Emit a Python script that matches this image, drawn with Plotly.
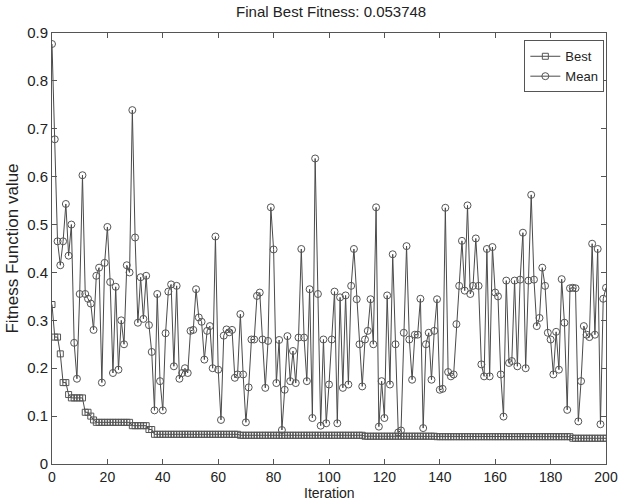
import plotly.graph_objects as go

iterations = list(range(0, 201))

mean_fitness = [
    0.877, 0.678, 0.465, 0.415, 0.465, 0.543, 0.435, 0.500, 0.253, 0.178,
    0.355, 0.603, 0.355, 0.345, 0.335, 0.280, 0.393, 0.410, 0.170, 0.420,
    0.495, 0.380, 0.190, 0.370, 0.197, 0.300, 0.250, 0.415, 0.400, 0.739,
    0.473, 0.295, 0.390, 0.303, 0.393, 0.290, 0.234, 0.112, 0.355, 0.173,
    0.112, 0.273, 0.360, 0.375, 0.204, 0.372, 0.178, 0.190, 0.200, 0.190,
    0.278, 0.280, 0.365, 0.306, 0.297, 0.218, 0.278, 0.288, 0.200, 0.475,
    0.197, 0.092, 0.268, 0.281, 0.275, 0.280, 0.180, 0.187, 0.313, 0.187,
    0.087, 0.160, 0.260, 0.260, 0.351, 0.358, 0.260, 0.159, 0.257, 0.536,
    0.448, 0.169, 0.259, 0.071, 0.155, 0.267, 0.173, 0.236, 0.169, 0.264,
    0.449, 0.264, 0.173, 0.365, 0.096, 0.638, 0.355, 0.080, 0.260, 0.085,
    0.166, 0.260, 0.360, 0.085, 0.348, 0.159, 0.352, 0.166, 0.372, 0.449,
    0.344, 0.250, 0.162, 0.260, 0.278, 0.344, 0.250, 0.536, 0.078, 0.173,
    0.096, 0.352, 0.166, 0.438, 0.250, 0.066, 0.070, 0.274, 0.455, 0.260,
    0.176, 0.270, 0.270, 0.345, 0.075, 0.250, 0.274, 0.176, 0.278, 0.344,
    0.155, 0.157, 0.535, 0.192, 0.183, 0.187, 0.292, 0.372, 0.466, 0.362,
    0.540, 0.355, 0.372, 0.471, 0.372, 0.208, 0.183, 0.449, 0.183, 0.453,
    0.358, 0.350, 0.187, 0.099, 0.383, 0.211, 0.215, 0.383, 0.204, 0.385,
    0.483, 0.200, 0.383, 0.562, 0.385, 0.288, 0.305, 0.410, 0.372, 0.274,
    0.260, 0.187, 0.276, 0.197, 0.386, 0.295, 0.113, 0.367, 0.368, 0.367,
    0.089, 0.173, 0.288, 0.270, 0.265, 0.460, 0.270, 0.449, 0.083, 0.345,
    0.368,
]

best_fitness = (
    [0.333, 0.265, 0.265, 0.230, 0.170, 0.170, 0.145, 0.138, 0.138, 0.138,
     0.138, 0.138, 0.108, 0.108, 0.100, 0.092]
    + [0.087] * 13      # 16-28
    + [0.080] * 6       # 29-34
    + [0.072] * 2       # 35-36
    + [0.062] * 31      # 37-67
    + [0.060] * 45      # 68-112
    + [0.058] * 26      # 113-138
    + [0.057] * 49      # 139-187
    + [0.053748] * 13   # 188-200
)

title_text = "Final Best Fitness: 0.053748"
x_title = "Iteration"
y_title = "Fitness Function value"
x_ticks = list(range(0, 201, 20))
y_ticks = [0, 0.1, 0.2, 0.3, 0.4, 0.5, 0.6, 0.7, 0.8, 0.9]
y_tick_labels = ["0", "0.1", "0.2", "0.3", "0.4", "0.5", "0.6", "0.7", "0.8", "0.9"]

FONT = "Liberation Sans, Arial, sans-serif"
LINE_COL = "#4a4a4a"
TXT = "#222222"

fig = go.Figure()
fig.add_trace(go.Scatter(
    x=iterations, y=best_fitness, name="Best", mode="lines+markers",
    line=dict(color=LINE_COL, width=1),
    marker=dict(symbol="square-open", size=6, color="#555555", line=dict(width=1)),
))
fig.add_trace(go.Scatter(
    x=iterations, y=mean_fitness, name="Mean", mode="lines+markers",
    line=dict(color=LINE_COL, width=1),
    marker=dict(symbol="circle-open", size=7, color="#555555", line=dict(width=1)),
))

axis_common = dict(
    showline=True, linecolor="#555555", linewidth=1, mirror="ticks",
    ticks="inside", ticklen=5, tickcolor="#555555", showgrid=False, zeroline=False,
    automargin=False,
)

fig.update_layout(
    width=619, height=502,
    paper_bgcolor="white", plot_bgcolor="white",
    margin=dict(l=52, r=13, t=33, b=38),
    title=dict(text=title_text, x=0.535, xanchor="center", xref="container",
               y=1 - 12 / 502, yanchor="middle", yref="container",
               font=dict(family=FONT, size=15, color=TXT)),
    xaxis=dict(range=[0, 200], tickvals=x_ticks,
               tickfont=dict(family=FONT, size=14, color=TXT),
               **axis_common),
    yaxis=dict(range=[0, 0.9], tickvals=y_ticks, ticktext=y_tick_labels,
               tickfont=dict(family=FONT, size=15, color=TXT),
               title=dict(text=y_title, standoff=4, font=dict(family=FONT, size=17, color=TXT)),
               **axis_common),
    legend=dict(x=0.997, xanchor="right", y=0.983, yanchor="top",
                bgcolor="white", bordercolor="#555555", borderwidth=1,
                font=dict(family=FONT, size=13, color=TXT),
                itemwidth=30, tracegroupgap=0),
    showlegend=True,
    annotations=[dict(text=x_title, xref="paper", yref="paper", x=0.5, y=0,
                      xanchor="center", yanchor="middle", yshift=-29, showarrow=False,
                      font=dict(family=FONT, size=14, color=TXT))],
)

fig.write_html("out.html", config={"displayModeBar": False})

# remove the default 8px body margin so the figure fills the window exactly
with open("out.html", "r", encoding="utf-8") as f:
    html = f.read()
html = html.replace("<head>", "<head><style>html,body{margin:0;padding:0;overflow:hidden;}</style>", 1)
with open("out.html", "w", encoding="utf-8") as f:
    f.write(html)
